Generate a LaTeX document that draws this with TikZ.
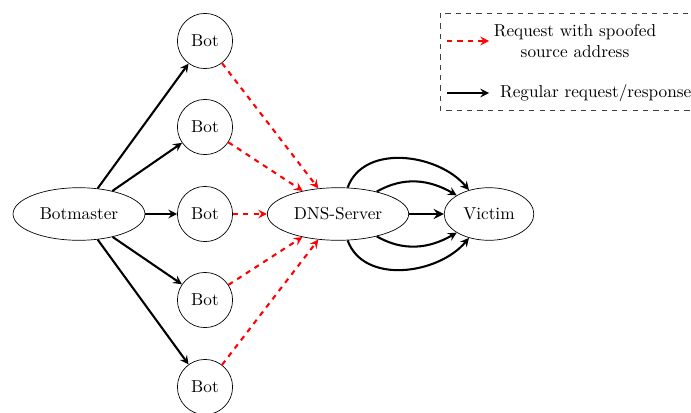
\documentclass[tikz,border=0pt]{standalone}
\usepackage{amssymb,amsmath}
\usepackage{tikz}
\usetikzlibrary{shapes.geometric}

\tikzset{
  bot/.style={circle, draw, inner sep=0pt, minimum size=32pt},
  host/.style={ellipse, draw, inner sep=0pt, minimum height=30.5pt},
  spoofed/.style={->, >=stealth, very thick, dashed, color=red},
  regular/.style={->, >=stealth, very thick},
}

\begin{document}
\begin{tikzpicture}[x=0.58pt, y=-0.58pt]
\useasboundingbox (0,0) rectangle (691,412);
\node (master) at (79,214) [host, minimum width=76.5pt] {Botmaster};
\node (bot1) at (205,41) [bot] {Bot};
\node (bot2) at (205,127) [bot] {Bot};
\node (bot3) at (205,214) [bot] {Bot};
\node (bot4) at (205,300) [bot] {Bot};
\node (bot5) at (205,387) [bot] {Bot};
\node (dns) at (338,214) [host, minimum width=82pt] {DNS-Server};
\node (victim) at (489,214) [host, minimum width=52pt] {Victim};
\draw [regular] (master) -- (bot1);
\draw [regular] (master) -- (bot2);
\draw [regular] (master) -- (bot3);
\draw [regular] (master) -- (bot4);
\draw [regular] (master) -- (bot5);
\draw [spoofed] (bot1) -- (dns);
\draw [spoofed] (bot2) -- (dns);
\draw [spoofed] (bot3) -- (dns);
\draw [spoofed] (bot4) -- (dns);
\draw [spoofed] (bot5) -- (dns);
\draw [regular, ultra thick] (dns) -- (victim);
\draw [regular] (dns) to [out=70, in=130] (victim);
\draw [regular] (dns) to [out=30, in=150] (victim);
\draw [regular] (dns) to [out=-30, in=-150] (victim);
\draw [regular] (dns) to [out=-70, in=-130] (victim);
% legend
\draw [dashed, draw=black!75] (440,13) rectangle (700,110);
\coordinate (spoofA) at (447,41);
\coordinate (spoofB) at (489,41);
\coordinate (regA) at (447,93);
\coordinate (regB) at (489,93);
\draw [spoofed] (spoofA) -- (spoofB);
\draw [regular] (regA) -- (regB);
\node (spooftext) at (575,41) [align=center] {Request with spoofed\\source address};
\node (regtext) at (494,93) [anchor=west] {Regular request/response};
\end{tikzpicture}
\end{document}
